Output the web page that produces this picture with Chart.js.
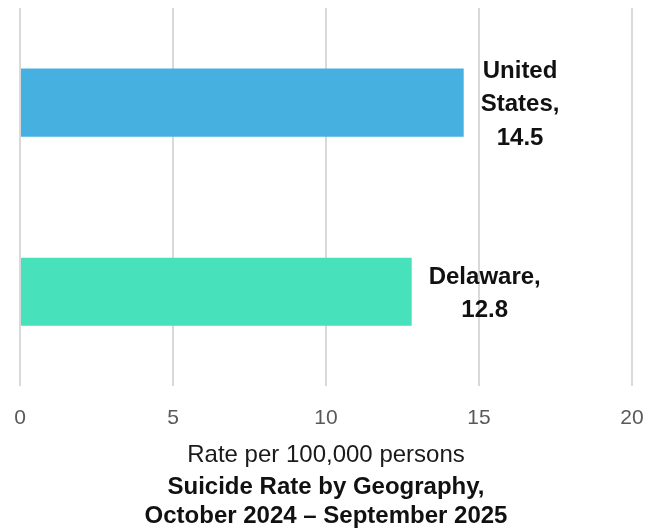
<!DOCTYPE html>
<html>
<head>
<meta charset="utf-8">
<script src="https://cdn.jsdelivr.net/npm/chart.js@4"></script>
<style>
    html, body { margin: 0; padding: 0; background: #ffffff; }
    #box { width: 660px; height: 531px; }
</style>
</head>
<body>
<div id="box"><canvas id="grafico"></canvas></div>
<script>
const categorias = ["United States", "Delaware"];
const taxas = [14.5, 12.8];
const cores = ["#46B1E1", "#47E1BB"];
const ticksX = [0, 5, 10, 15, 20];
const tituloEixo = "Rate per 100,000 persons";
const titulo = ["Suicide Rate by Geography,", "October 2024 \u2013 September 2025"];

const fonte = "'Liberation Sans', Arial, sans-serif";

// rotulos a direita de cada barra: "Categoria, valor", quebrando palavras
const rotulosBarras = {
    id: "rotulosBarras",
    afterDatasetsDraw(chart) {
        const ctx = chart.ctx;
        const meta = chart.getDatasetMeta(0);
        ctx.save();
        ctx.font = "bold 24px " + fonte;
        ctx.fillStyle = "#111111";
        ctx.textAlign = "center";
        ctx.textBaseline = "middle";
        meta.data.forEach((barra, i) => {
            const texto = categorias[i] + ",";
            const palavras = texto.split(" ");
            const linhas = [];
            let atual = "";
            for (const p of palavras) {
                const teste = atual ? atual + " " + p : p;
                if (atual && ctx.measureText(teste).width > 100) {
                    linhas.push(atual);
                    atual = p;
                } else {
                    atual = teste;
                }
            }
            linhas.push(atual);
            linhas.push(String(taxas[i]));
            const largura = Math.max(...linhas.map((l) => ctx.measureText(l).width));
            const x = barra.x + 17 + largura / 2;
            const alturaLinha = 33.5;
            const y0 = barra.y + 2 - (alturaLinha * (linhas.length - 1)) / 2;
            linhas.forEach((l, k) => ctx.fillText(l, x, y0 + k * alturaLinha));
        });
        ctx.restore();
    },
};

const ctx = document.getElementById("grafico").getContext("2d");
new Chart(ctx, {
    type: "bar",
    data: {
        labels: categorias,
        datasets: [
            {
                data: taxas,
                backgroundColor: cores,
                borderWidth: 0,
                barPercentage: 0.36,
                categoryPercentage: 1,
            },
        ],
    },
    options: {
        indexAxis: "y",
        responsive: true,
        maintainAspectRatio: false,
        animation: false,
        layout: {
            padding: { left: 20, right: 28, top: 8, bottom: 0 },
        },
        plugins: {
            legend: { display: false },
            tooltip: { enabled: false },
            title: {
                display: true,
                position: "bottom",
                text: titulo,
                color: "#111111",
                font: { family: fonte, size: 24, weight: "bold", lineHeight: 1.2 },
                padding: { top: 4, bottom: 0 },
            },
        },
        scales: {
            x: {
                min: 0,
                max: 20,
                afterBuildTicks: (eixo) => {
                    eixo.ticks = ticksX.map((v) => ({ value: v }));
                },
                afterFit: (eixo) => {
                    eixo.height = 83;
                    eixo.paddingLeft = 0;
                    eixo.paddingRight = 0;
                },
                grid: {
                    color: "#d9d9d9",
                    lineWidth: 2,
                    drawTicks: false,
                },
                border: { display: false },
                ticks: {
                    color: "#595959",
                    padding: 19,
                    font: { family: fonte, size: 21 },
                    maxRotation: 0,
                },
                title: {
                    display: true,
                    text: tituloEixo,
                    color: "#1a1a1a",
                    font: { family: fonte, size: 24, lineHeight: 1.2 },
                    padding: { top: 8, bottom: 0 },
                },
            },
            y: {
                display: false,
            },
        },
    },
    plugins: [rotulosBarras],
});
</script>
</body>
</html>
